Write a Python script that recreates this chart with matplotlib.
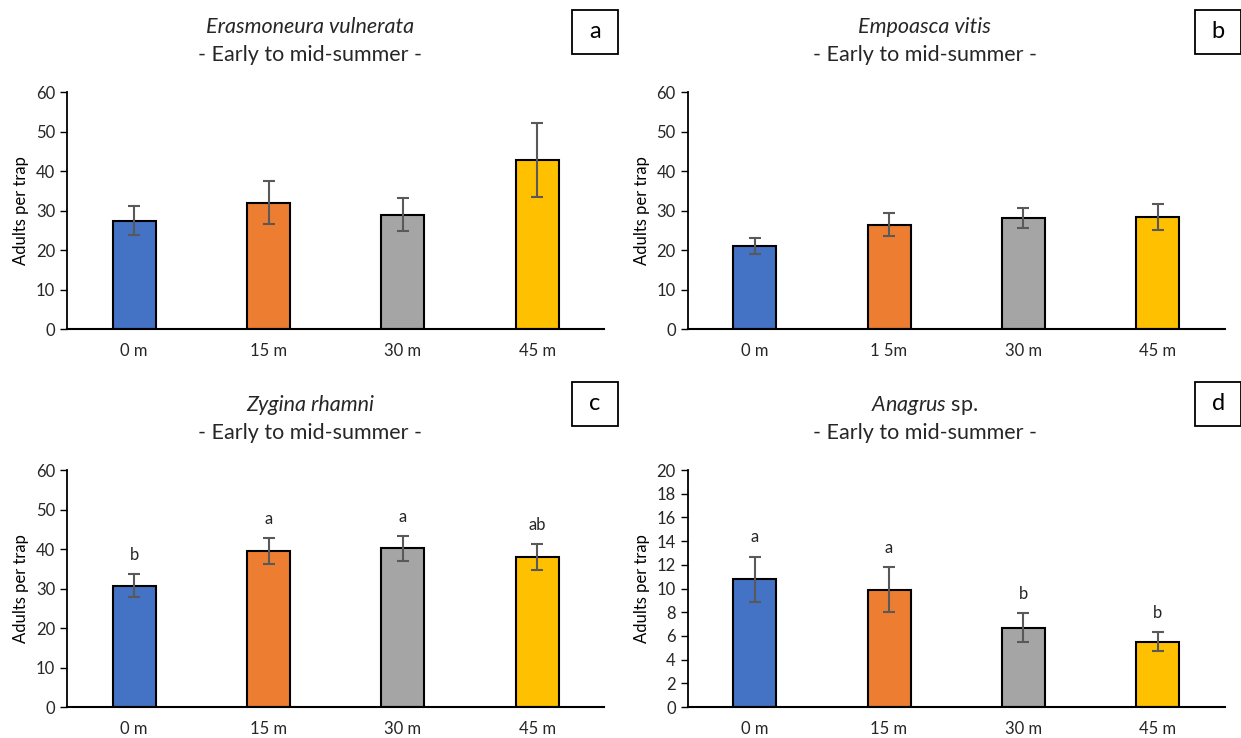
import matplotlib
matplotlib.use("Agg")
import matplotlib.pyplot as plt
import numpy as np
from matplotlib.patches import Rectangle

plt.rcParams['font.family'] = ['Lato', 'DejaVu Sans']
plt.rcParams['mathtext.fontset'] = 'custom'
plt.rcParams['mathtext.rm'] = 'Lato'
plt.rcParams['mathtext.it'] = 'Lato:italic'

#-------------------------------------
# data
distances = ["0 m", "15 m", "30 m", "45 m"]
distances_b = ["0 m", "1 5m", "30 m", "45 m"]
bar_colors = ["#4472C4", "#ED7D31", "#A5A5A5", "#FFC000"]

species = ["Erasmoneura vulnerata", "Empoasca vitis", "Zygina rhamni", "Anagrus"]
panel_letters = ["a", "b", "c", "d"]

mean_a = [27.5, 32.0, 29.0, 42.8]
err_a = [3.6, 5.4, 4.1, 9.3]
mean_b = [21.0, 26.5, 28.2, 28.4]
err_b = [2.0, 3.0, 2.5, 3.4]
mean_c = [30.7, 39.5, 40.2, 37.9]
err_c = [2.9, 3.3, 3.2, 3.3]
sig_c = ["b", "a", "a", "ab"]
mean_d = [10.8, 9.9, 6.7, 5.5]
err_d = [1.9, 1.9, 1.2, 0.8]
sig_d = ["a", "a", "b", "b"]
#-------------------------------------

fig = plt.figure(figsize=(12.41, 7.38), dpi=100)

panels = [
    # axes rect, means, errs, tick labels, ymax, ystep, letters
    ([0.054, 0.554, 0.433, 0.321], mean_a, err_a, distances, 60, 10, None),
    ([0.554, 0.554, 0.433, 0.321], mean_b, err_b, distances_b, 60, 10, None),
    ([0.054, 0.042, 0.433, 0.321], mean_c, err_c, distances, 60, 10, sig_c),
    ([0.554, 0.042, 0.433, 0.321], mean_d, err_d, distances, 20, 2, sig_d),
]

for i, (rect, means, errs, labels, ymax, ystep, letters) in enumerate(panels):
    ax = fig.add_axes(rect)
    x = np.arange(len(means))
    ax.bar(x, means, width=0.32, color=bar_colors, edgecolor="black", linewidth=1.5, zorder=2)
    ax.errorbar(x, means, yerr=errs, fmt="none", ecolor="#595959", elinewidth=1.5,
                capsize=4, capthick=1.5, zorder=3)
    if letters is not None:
        for xi, m, e, s in zip(x, means, errs, letters):
            ax.annotate(s, (xi, m + e), xytext=(0, 8), textcoords="offset points",
                        ha="center", va="bottom", fontsize=12, color="#262626")
    ax.set_xlim(-0.5, len(means) - 0.5)
    ax.set_ylim(0, ymax)
    ax.set_yticks(np.arange(0, ymax + ystep, ystep))
    ax.set_xticks(x)
    ax.set_xticklabels(labels)
    ax.spines["top"].set_visible(False)
    ax.spines["right"].set_visible(False)
    ax.spines["left"].set_linewidth(1.3)
    ax.spines["bottom"].set_linewidth(1.5)
    ax.tick_params(axis="x", length=0, pad=10, labelsize=12, colors="#262626")
    ax.tick_params(axis="y", length=5, width=1, labelsize=12, colors="#262626")
    ax.tick_params(axis="both", color="black")
    ax.set_ylabel("Adults per trap", fontsize=12, color="black", labelpad=5)

    # title, two lines, centred over the half of the figure
    cx = 0.25 if i % 2 == 0 else 0.745
    top = 1 - 27 / 738 if i < 2 else 1 - 405 / 738
    if i == 3:
        fig.text(cx, top, r"$\it{Anagrus}$ sp.", ha="center", va="center", fontsize=15.5, color="#262626")
    else:
        fig.text(cx, top, species[i], ha="center", va="center", fontsize=15.5,
                 style="italic", color="#262626")
    fig.text(cx, top - 28 / 738, "- Early to mid-summer -", ha="center", va="center",
             fontsize=15.5, color="#262626")

    # boxed panel letter
    bx = 0.461 if i % 2 == 0 else 0.963
    by = 1 - 54 / 738 if i < 2 else 1 - 426 / 738
    fig.patches.append(Rectangle((bx, by), 46 / 1241, 44 / 738, transform=fig.transFigure,
                                 facecolor="white", edgecolor="black", linewidth=1.3))
    fig.text(bx + 23 / 1241, by + 22 / 738, panel_letters[i], ha="center", va="center",
             fontsize=17, color="black")

fig.savefig("out.png", dpi=100)
